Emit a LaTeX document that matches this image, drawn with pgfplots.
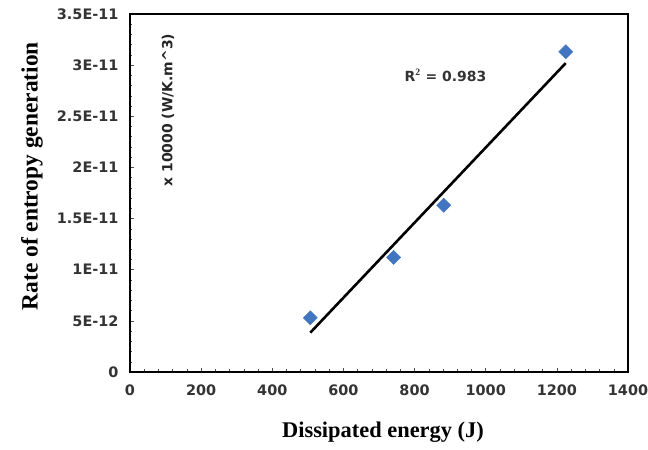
\documentclass[border=0pt]{standalone}
\usepackage{pgfplots}
\pgfplotsset{compat=1.18}
\usepackage{fontspec}
\setmainfont{Liberation Serif}
\newfontfamily\tickfont{DejaVu Sans}
\definecolor{ptblue}{HTML}{4275C0}
\begin{document}
\begin{tikzpicture}
\path[use as bounding box] (0,0) rectangle (648bp,450bp);
\begin{axis}[
  at={(130bp,78bp)}, anchor=south west,
  scale only axis, width=498bp, height=358bp,
  xmin=0, xmax=1400, ymin=0, ymax=3.5e-11,
  xtick={0,200,...,1400},
  ytick={0,5e-12,1e-11,1.5e-11,2e-11,2.5e-11,3e-11,3.5e-11},
  yticklabels={0,5E-12,1E-11,1.5E-11,2E-11,2.5E-11,3E-11,3.5E-11},
  scaled y ticks=false,
  /pgf/number format/1000 sep={},
  minor x tick num=4, minor y tick num=4,
  tick pos=left, tick align=inside,
  major tick length=4bp, minor tick length=2.5bp,
  axis line style={line width=1.2bp},
  every tick/.style={black!70, line width=0.5bp},
  /pgf/number format/assume math mode=true,
  ticklabel style={font=\tickfont\bfseries\fontsize{14.5}{17}\selectfont, text=black!80},
  yticklabel style={xshift=-8bp},
  xticklabel style={yshift=-9bp},
  xlabel={Dissipated energy (J)},
  ylabel={Rate of entropy generation},
  every axis x label/.append style={font=\bfseries\fontsize{22.5}{26}\selectfont, at={(axis description cs:0.508,-0.168)}, anchor=center},
  every axis y label/.append style={font=\bfseries\fontsize{23.5}{27}\selectfont, at={(axis description cs:-0.197,0.547)}, anchor=center},
  clip=false,
]
\addplot[only marks, mark=square*, mark size=5bp, mark options={rotate=45, fill=ptblue, draw=ptblue}]
  coordinates {(507,5.3e-12) (741,1.12e-11) (882,1.63e-11) (1225,3.13e-11)};
\addplot[black, line width=2.6bp] coordinates {(507,3.85e-12) (1225,3.02e-11)};
\node[rotate=90, font=\tickfont\bfseries\fontsize{14}{16}\selectfont, text=black!85] at (axis cs:107,2.56e-11) {x 10000 (W/K.m\^{}3)};
\node[font=\tickfont\bfseries\fontsize{14}{16}\selectfont, text=black!80] at (axis cs:887,2.90e-11) {R$^{\mathbf{2}}$ = 0.983};
\end{axis}
\end{tikzpicture}
\end{document}
